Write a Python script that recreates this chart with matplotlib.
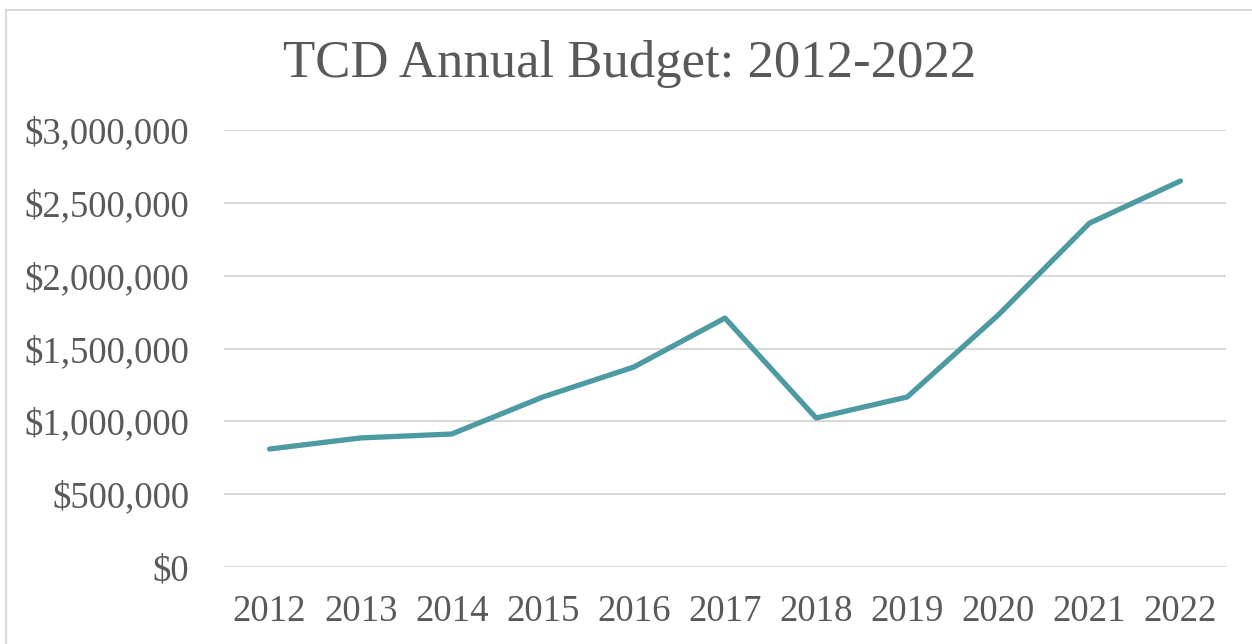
import matplotlib
matplotlib.use('Agg')
from matplotlib import pyplot as plt
from matplotlib.patches import Rectangle
from matplotlib.ticker import FuncFormatter

years = ['2012', '2013', '2014', '2015', '2016', '2017', '2018', '2019', '2020', '2021', '2022']
budget = [810000, 886000, 913000, 1167000, 1373000, 1709000, 1023000, 1167000, 1730000, 2360000, 2650000]
y_ticks = [0, 500000, 1000000, 1500000, 2000000, 2500000, 3000000]

plt.rcParams['font.family'] = ['Liberation Serif', 'DejaVu Serif']
text_color = '#595959'

fig = plt.figure(figsize=(12.52, 6.44), dpi=100)
ax = fig.add_axes([224 / 1252, 1 - 567 / 644, (1226 - 224) / 1252, (567 - 130) / 644])

x = list(range(len(years)))
ax.plot(x, budget, color='#4D9AA2', linewidth=3.8, solid_capstyle='round', solid_joinstyle='round', zorder=3)

ax.set_xlim(-0.5, len(years) - 0.5)
ax.set_ylim(0, 3000000)
ax.set_yticks(y_ticks)
ax.yaxis.set_major_formatter(FuncFormatter(lambda v, p: '${:,.0f}'.format(v)))
ax.set_xticks(x)
ax.set_xticklabels(years)

ax.grid(axis='y', color='#D9D9D9', linewidth=1.5, zorder=0)
for s in ax.spines.values():
    s.set_visible(False)
ax.tick_params(axis='both', length=0, labelsize=26.5, labelcolor=text_color)
ax.tick_params(axis='y', pad=25)
ax.tick_params(axis='x', pad=20)

fig.text(630 / 1252, 1 - 64 / 644, 'TCD Annual Budget: 2012-2022', ha='center', va='center',
         fontsize=38, color=text_color)

# outer chart border
fig.patches.append(Rectangle((6 / 1252, -0.01), 1.02, 1 - 10 / 644 + 0.01, transform=fig.transFigure,
                             fill=False, edgecolor='#D9D9D9', linewidth=1.5))

fig.savefig('out.png', dpi=100)
